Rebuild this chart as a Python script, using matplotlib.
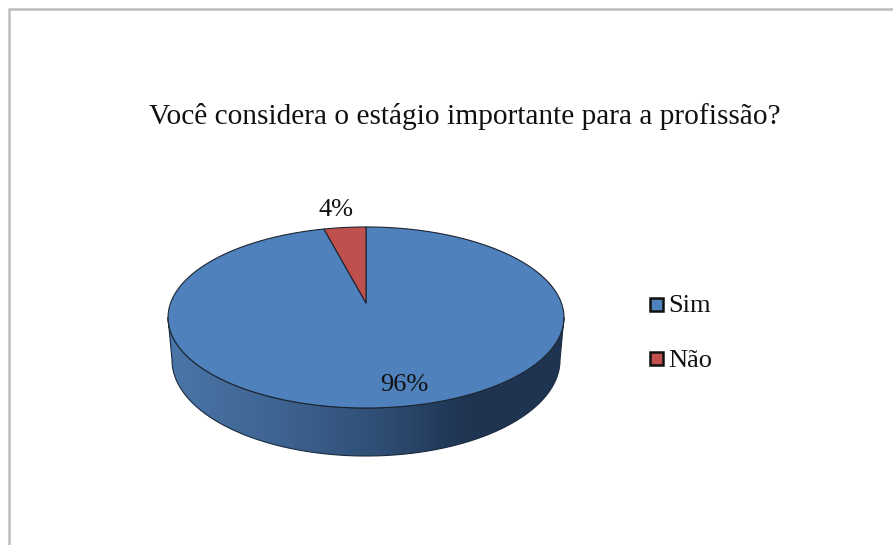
import numpy as np
import matplotlib
matplotlib.use("Agg")
import matplotlib.pyplot as plt
from matplotlib.patches import Polygon, Rectangle
from matplotlib.colors import LinearSegmentedColormap

categories = ["Sim", "Não"]
values = [96, 4]
labels = ["96%", "4%"]
colors = ["#4f81bd", "#c0504d"]
title = "Você considera o estágio importante para a profissão?"

W, H = 893, 545
plt.rcParams["font.family"] = ["Liberation Serif", "DejaVu Serif"]
fig = plt.figure(figsize=(W / 100, H / 100), dpi=100, facecolor="white")
ax = fig.add_axes([0, 0, 1, 1])
ax.set_xlim(0, W)
ax.set_ylim(H, 0)
ax.axis("off")

# Chart frame
ax.plot([9, 9, W], [H, 9, 9], color="#bdbdbd", lw=1.8, solid_joinstyle="miter")

# Perspective projection of a flat disc
CX, CY, DX, DY, K = 366.0, 303.0, 195.4, 88.2, -0.16


def project(theta):
    """theta: clockwise radians from 12 o'clock on the disc."""
    u, v = np.sin(theta), -np.cos(theta)
    w = 1 + K * v
    return CX + DX * u / w, CY + DY * v / w


# Side wall of the pie
front = np.linspace(np.pi * 0.5 + 0.16, np.pi * 1.5 - 0.16, 200)
tx, ty = project(front)
order = np.argsort(tx)
tx, ty = tx[order], ty[order]
phi = np.linspace(0, np.pi, 200)
bx = 366 + 194 * np.cos(phi)
by = 360 + 96 * np.sin(phi)
wall = np.column_stack([np.r_[tx, bx], np.r_[ty, by]])
wall_patch = Polygon(wall, closed=True, facecolor="none", edgecolor="#1a2a40", lw=0.8, zorder=2)
ax.add_patch(wall_patch)
cmap = LinearSegmentedColormap.from_list(
    "wall", [(0, "#4a76a8"), (0.3, "#3d628f"), (0.55, "#2e4c72"), (0.75, "#1f3552"), (1, "#1f3450")]
)
im = ax.imshow(
    np.linspace(0, 1, 256)[None, :], cmap=cmap, aspect="auto",
    extent=(168, 564, 470, 300), zorder=1,
)
im.set_clip_path(Polygon(wall, closed=True, transform=ax.transData))
ax.set_xlim(0, W)
ax.set_ylim(H, 0)

# Top face: slices run clockwise from 12 o'clock, last slice ends at 12 o'clock
fractions = np.array(values, dtype=float) / sum(values)
starts = np.r_[0, np.cumsum(fractions)[:-1]] * 2 * np.pi
for start, frac, col in zip(starts, fractions, colors):
    th = np.linspace(start, start + frac * 2 * np.pi, 400)
    x, y = project(th)
    ax.add_patch(Polygon(np.column_stack([np.r_[CX, x], np.r_[CY, y]]), closed=True,
                         facecolor=col, edgecolor="#1c2430", lw=0.8, zorder=3,
                         joinstyle="round"))

# Text
ax.text(464.5, 116.5, title, ha="center", va="center", fontsize=21.2, color="#111111", zorder=5)
ax.text(404.5, 385, labels[0], ha="center", va="center", fontsize=19, color="#111111", zorder=5)
ax.text(336, 210, labels[1], ha="center", va="center", fontsize=19, color="#111111", zorder=5)

# Legend
for name, col, y in zip(categories, colors, [304.5, 359]):
    ax.add_patch(Rectangle((649.5, y - 7), 13, 13, facecolor=col, edgecolor="#111111", lw=1.8, zorder=5))
    ax.text(668.5, y + 2, name, ha="left", va="center", fontsize=19, color="#111111", zorder=5)

fig.savefig("out.png", dpi=100, facecolor="white")
